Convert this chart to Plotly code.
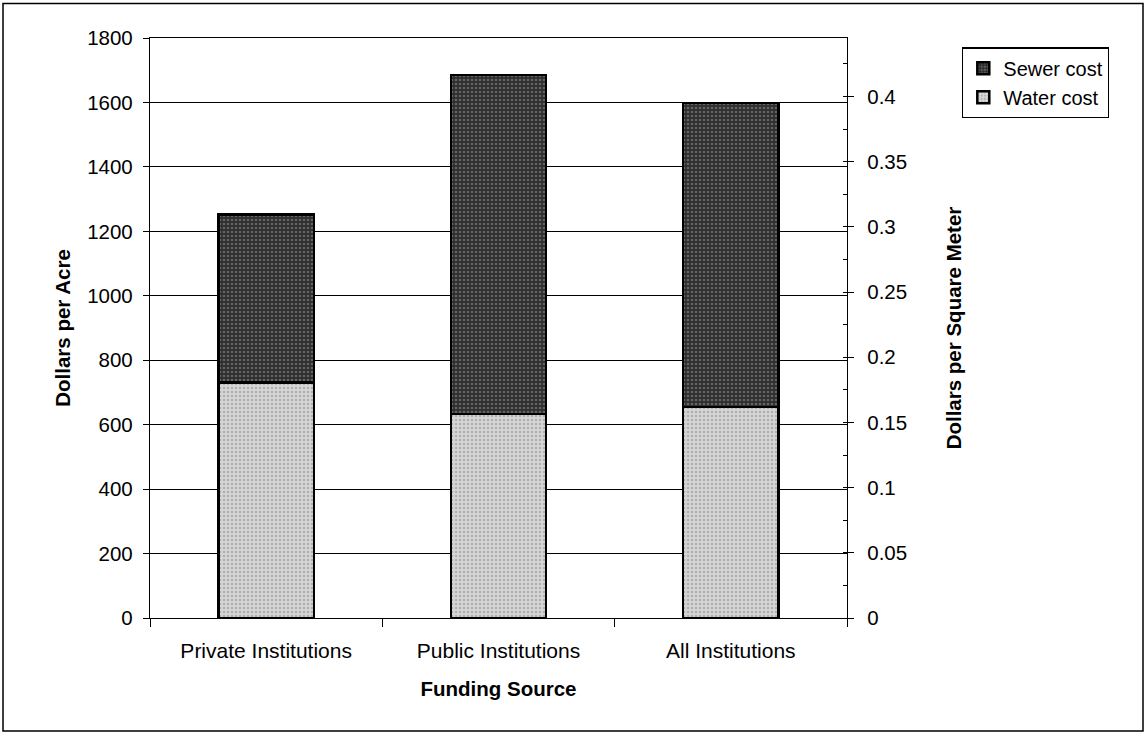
import plotly.graph_objects as go

categories = ["Private Institutions", "Public Institutions", "All Institutions"]
water_cost = [731, 633, 655]
sewer_cost = [521, 1052, 944]
left_ticks = [0, 200, 400, 600, 800, 1000, 1200, 1400, 1600, 1800]
right_ticks = [0, 0.05, 0.1, 0.15, 0.2, 0.25, 0.3, 0.35, 0.4]
right_tick_labels = ["0", "0.05", "0.1", "0.15", "0.2", "0.25", "0.3", "0.35", "0.4"]
SQM_PER_ACRE = 4046.86

FONT = "Liberation Sans, Arial, sans-serif"
FS = 20.5

fig = go.Figure()
fig.add_trace(go.Bar(
    name="Water cost", x=categories, y=water_cost,
    marker=dict(color="#c4c4c4", line=dict(color="black", width=2.5),
                pattern=dict(shape=".", fgcolor="#8a8a8a", bgcolor="#d6d6d6", size=4, solidity=0.35)),
))
fig.add_trace(go.Bar(
    name="Sewer cost", x=categories, y=sewer_cost,
    marker=dict(color="#4a4a4a", line=dict(color="black", width=2.5),
                pattern=dict(shape=".", fgcolor="#9a9a9a", bgcolor="#2e2e2e", size=4, solidity=0.35)),
))
totals_sqm = [(w + s) / SQM_PER_ACRE for w, s in zip(water_cost, sewer_cost)]
fig.add_trace(go.Scatter(x=categories, y=totals_sqm, yaxis="y2", mode="markers",
                         marker=dict(opacity=0), showlegend=False, hoverinfo="skip"))

# plot area in pixels: x 150..847, y 37.5..618
L, R, T, B = 150, 847, 37.5, 618
W, H = 1147, 735
pw, ph = R - L, B - T

def px_x(x):
    return (x - L) / pw

def px_y(y):
    return (B - y) / ph

fig.update_layout(
    width=W, height=H,
    margin=dict(l=L, r=W - R, t=T, b=H - B, autoexpand=False),
    paper_bgcolor="white", plot_bgcolor="white",
    font=dict(family=FONT, size=FS, color="black"),
    barmode="stack", bargap=0.59,
    showlegend=True,
    legend=dict(x=px_x(962), y=px_y(47), xanchor="left", yanchor="top",
                traceorder="reversed", bordercolor="black", borderwidth=1.3,
                font=dict(size=20), bgcolor="white", itemwidth=30,
                tracegroupgap=0),
    xaxis=dict(
        type="category", tickson="boundaries", ticks="outside", ticklen=8,
        tickcolor="black", showline=True, linecolor="black", linewidth=1.3,
        mirror=True, showgrid=False, ticklabelstandoff=14,
        title=dict(text="<b>Funding Source</b>", standoff=20, font=dict(size=FS)),
        tickfont=dict(size=21),
    ),
    yaxis=dict(
        range=[0, 1800], tickvals=left_ticks, ticks="outside", ticklen=6,
        tickcolor="black", showline=True, linecolor="black", linewidth=1.3,
        showgrid=True, gridcolor="black", gridwidth=1, zeroline=False,
        ticklabelstandoff=6,
        title=dict(text="<b>Dollars per Acre</b>", standoff=10, font=dict(size=FS)),
        tickfont=dict(size=FS),
    ),
    yaxis2=dict(
        overlaying="y", side="right", range=[0, 1800 / SQM_PER_ACRE],
        tickvals=right_ticks, ticktext=right_tick_labels, ticks="outside", ticklen=6,
        tickcolor="black", showline=True, linecolor="black", linewidth=1.3,
        showgrid=False, zeroline=False, ticklabelstandoff=9,
        minor=dict(ticks="inside", dtick=0.025, tick0=0.025, ticklen=4, tickcolor="black"),
        title=dict(text="<b>Dollars per Square Meter</b>", standoff=40, font=dict(size=FS)),
        tickfont=dict(size=FS),
    ),
    shapes=[dict(type="rect", xref="paper", yref="paper",
                 x0=px_x(3), x1=px_x(1143), y0=px_y(731), y1=px_y(3),
                 line=dict(color="black", width=1.5), layer="below")],
)

fig.write_html("out.html", config={"displayModeBar": False},
               post_script="document.body.style.margin='0';document.body.style.overflow='hidden';")
